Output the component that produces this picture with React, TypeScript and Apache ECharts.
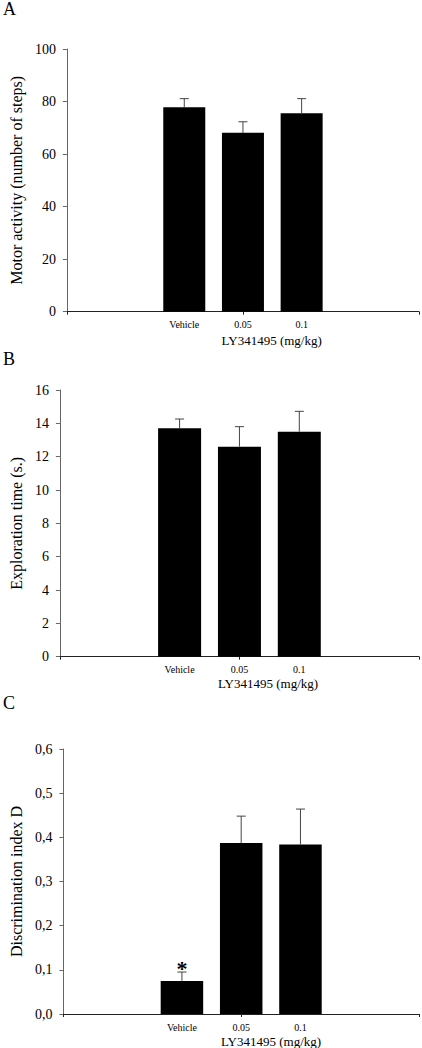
import React, { useEffect, useRef } from "react";
import * as echarts from "echarts";

const groups = ["Vehicle", "0.05", "0.1"];
const padLeft = 2;
const padRight = 2;

const motorMean = [77.8, 68.1, 75.5];
const motorSem = [3.3, 4.2, 5.6];

const explorationMean = [13.7, 12.6, 13.5];
const explorationSem = [0.56, 1.2, 1.22];

const discrimMean = [0.075, 0.387, 0.384];
const discrimSem = [0.02, 0.061, 0.08];
const discrimSig = ["*", "", ""];

const panelLetters = ["A", "B", "C"];
const yNames = ["Motor activity (number of steps)", "Exploration time (s.)", "Discrimination index D"];
const xName = "LY341495 (mg/kg)";
const yMax = [100, 16, 0.6];
const yStep = [20, 2, 0.1];

const FONT = "Liberation Serif";

const categories = [
  ...Array(padLeft).fill(""),
  ...groups,
  ...Array(padRight).fill(""),
];

function padded(vals: number[]) {
  return [...Array(padLeft).fill(null), ...vals, ...Array(padRight).fill(null)];
}

const grids = [
  { left: 57, top: 49, width: 365, height: 262.7 },
  { left: 50, top: 390, width: 371, height: 266.7 },
  { left: 52.7, top: 749, width: 368.3, height: 265 },
];
const barWidths = [42, 43, 42.5];
const nameGaps = [41, 34, 37];
const xNamePos = [
  [271.7, 340],
  [268, 683],
  [271, 1041.7],
];
const letterPos = [
  [3, 0],
  [3, 350],
  [3, 694],
];

export default function App() {
  const ref = useRef<HTMLDivElement>(null);
  useEffect(() => {
    if (!ref.current) return;
    const chart = echarts.init(ref.current, null, { renderer: "svg" });
    const means = [motorMean, explorationMean, discrimMean];
    const sems = [motorSem, explorationSem, discrimSem];
    const sigs = [["", "", ""], ["", "", ""], discrimSig];

    const xAxis = grids.map((_, i) => ({
      type: "category",
      gridIndex: i,
      data: categories,
      boundaryGap: false,
      axisLine: { lineStyle: { color: "#222", width: 1 } },
      axisTick: { show: true, interval: 2, length: 3, lineStyle: { color: "#222" } },
      axisLabel: {
        interval: 0,
        fontFamily: FONT,
        fontSize: 10,
        color: "#000",
        margin: 8,
      },
    }));

    const yAxis = grids.map((_, i) => ({
      type: "value",
      gridIndex: i,
      min: 0,
      max: yMax[i],
      interval: yStep[i],
      name: yNames[i],
      nameLocation: "middle",
      nameGap: nameGaps[i],
      nameTextStyle: { fontFamily: FONT, fontSize: 16, color: "#000" },
      axisLine: { show: true, lineStyle: { color: "#666", width: 1 } },
      axisTick: { show: true, length: 4, lineStyle: { color: "#666" } },
      splitLine: { show: false },
      axisLabel: {
        fontFamily: FONT,
        fontSize: 14,
        color: "#000",
        margin: 11,
        formatter:
          i === 2
            ? (v: number) => v.toFixed(1).replace(".", ",")
            : (v: number) => String(v),
      },
    }));

    const series: any[] = [];
    grids.forEach((_, i) => {
      series.push({
        type: "bar",
        xAxisIndex: i,
        yAxisIndex: i,
        data: padded(means[i]),
        barWidth: barWidths[i],
        itemStyle: { color: "#000" },
        z: 2,
      });
      const errData = groups.map((g, k) => [
        padLeft + k,
        means[i][k],
        means[i][k] + sems[i][k],
        sigs[i][k],
      ]);
      series.push({
        type: "custom",
        xAxisIndex: i,
        yAxisIndex: i,
        z: 3,
        encode: { x: 0, y: [1, 2] },
        data: errData,
        renderItem: (params: any, api: any) => {
          const x = api.value(0);
          const m = api.value(1);
          const t = api.value(2);
          const b = api.coord([x, m]);
          const tp = api.coord([x, t]);
          const star = errData[params.dataIndex][3] as string;
          const children: any[] = [
            {
              type: "line",
              shape: { x1: b[0], y1: b[1], x2: tp[0], y2: tp[1] },
              style: { stroke: "#444", lineWidth: 1 },
            },
            {
              type: "line",
              shape: { x1: tp[0] - 4.5, y1: tp[1], x2: tp[0] + 4.5, y2: tp[1] },
              style: { stroke: "#444", lineWidth: 1 },
            },
          ];
          if (star) {
            children.push({
              type: "text",
              x: tp[0],
              y: tp[1] - 4,
              style: {
                text: star,
                fontFamily: FONT,
                fontSize: 22,
                fontWeight: "bold",
                fill: "#000",
                textAlign: "center",
                textVerticalAlign: "middle",
              },
            });
          }
          return { type: "group", children };
        },
      });
    });

    const graphic: any[] = [];
    grids.forEach((_, i) => {
      graphic.push({
        type: "text",
        left: letterPos[i][0],
        top: letterPos[i][1],
        style: { text: panelLetters[i], fontFamily: FONT, fontSize: 18, fill: "#000" },
      });
      graphic.push({
        type: "text",
        x: xNamePos[i][0],
        y: xNamePos[i][1],
        style: {
          text: xName,
          fontFamily: FONT,
          fontSize: 13,
          fill: "#000",
          textAlign: "center",
          textVerticalAlign: "middle",
        },
      });
    });

    chart.setOption({
      animation: false,
      backgroundColor: "#fff",
      grid: grids.map((g) => ({ ...g, containLabel: false })),
      xAxis,
      yAxis,
      series,
      graphic,
    });
    return () => chart.dispose();
  }, []);
  return (
    <div
      ref={ref}
      style={{ position: "fixed", left: 0, top: 0, width: 422, height: 1048, background: "#fff" }}
    />
  );
}
